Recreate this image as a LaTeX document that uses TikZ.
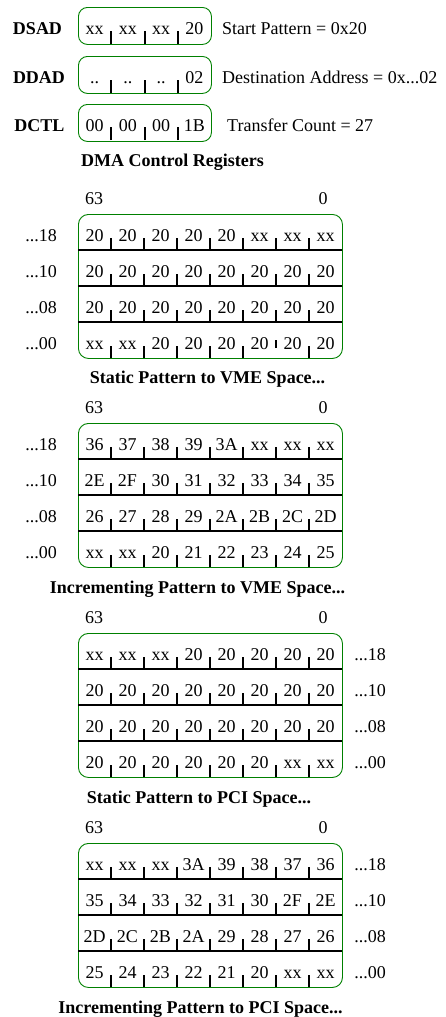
\documentclass[tikz,border=0pt]{standalone}
\usepackage{fontspec}
\setmainfont{Liberation Serif}
\usepackage{tikz}
\usetikzlibrary{positioning}
\definecolor{dmagreen}{RGB}{0,128,0}
\tikzset{
  regbox/.style={draw=dmagreen, line width=0.9pt, rounded corners=9pt, minimum width=133pt, minimum height=37pt, inner sep=0pt, anchor=north west},
  membox/.style={draw=dmagreen, line width=0.9pt, rounded corners=10pt, minimum width=264pt, minimum height=144pt, inner sep=0pt, anchor=north west},
  byte/.style={anchor=base, inner sep=0pt},
  regname/.style={font=\fontsize{18}{21}\selectfont\bfseries, anchor=base, inner sep=0pt},
  regnote/.style={anchor=base west, inner sep=0pt},
  pattitle/.style={font=\fontsize{18}{21}\selectfont\bfseries, anchor=base, inner sep=0pt},
  rowline/.style={line width=2pt},
  bytetick/.style={line width=2pt}
}

\begin{document}
\begin{tikzpicture}[x=1pt, y=-1pt, font=\fontsize{18}{21}\selectfont]
                \useasboundingbox (0,0) rectangle (445,1017);
                % DMA control registers
                \node[regbox] (dsad) at (78,7) {};
                \node[regbox] (ddad) at (78,56) {};
                \node[regbox] (dctl) at (78,104) {};
                \node[regname] (dsadname) at (37.5,34) {DSAD};
                \node[regname] (ddadname) at (39,83) {DDAD};
                \node[regname] (dctlname) at (39.5,131) {DCTL};
                \foreach \b [count=\c] in {xx,xx,xx,20}
                    \node[byte] (dsad-\c) at ({61.4+33.25*\c},34) {\b};
                \foreach \b [count=\c] in {..,..,..,02}
                    \node[byte] (ddad-\c) at ({61.4+33.25*\c},83) {\b};
                \foreach \b [count=\c] in {00,00,00,1B}
                    \node[byte] (dctl-\c) at ({61.4+33.25*\c},131) {\b};
                \foreach \c in {1,2,3} {
                    \draw[bytetick] ({78+33.25*\c},44) -- ++(0,-13);
                    \draw[bytetick] ({78+33.25*\c},93) -- ++(0,-13);
                    \draw[bytetick] ({78+33.25*\c},140) -- ++(0,-13);
                }
                \node[regnote] (dsadnote) at (222,34) {Start Pattern = 0x20};
                \node[regnote] (ddadnote) at (222,83) {Destination Address = 0x...02};
                \node[regnote] (dctlnote) at (227,131) {Transfer Count = 27};
                \node[pattitle] (regtitle) at (172.5,166) {DMA Control Registers};

                % static pattern to VME space
                \node[membox] (vmestat) at (78,214) {};
                \node[byte] (vmestat-hi) at (94,204) {63};
                \node[byte] (vmestat-lo) at (323,204) {0};
                \foreach \row [count=\r] in {{20,20,20,20,20,xx,xx,xx},{20,20,20,20,20,20,20,20},{20,20,20,20,20,20,20,20},{xx,xx,20,20,20,20,20,20}}
                    \foreach \b [count=\c] in \row
                        \node[byte] (vmestat-\r-\c) at ({61.5+33*\c},{214+36*\r-8.5}) {\b};
                \foreach \a [count=\r] in {18,10,08,00}
                    \node[byte] (vmestat-a\r) at (41,{214+36*\r-8.5}) {...\a};
                \foreach \r in {1,2,3} {
                    \draw[rowline] (78,{214+36*\r}) -- (342,{214+36*\r});
                    \foreach \c in {1,...,7}
                        \draw[bytetick] ({78+33*\c},{214+36*\r}) -- ++(0,-12);
                }
                \foreach \c in {1,2,3,4,5,7}
                    \draw[bytetick] ({78+33*\c},358) -- ++(0,-12);
                \draw[bytetick] (276,348) -- (276,340);
                \node[pattitle] (vmestat-title) at (207.5,383) {Static Pattern to VME Space...};

                % incrementing pattern to VME space
                \node[membox] (vmeinc) at (78,423) {};
                \node[byte] (vmeinc-hi) at (94,413) {63};
                \node[byte] (vmeinc-lo) at (323,413) {0};
                \foreach \row [count=\r] in {{36,37,38,39,3A,xx,xx,xx},{2E,2F,30,31,32,33,34,35},{26,27,28,29,2A,2B,2C,2D},{xx,xx,20,21,22,23,24,25}}
                    \foreach \b [count=\c] in \row
                        \node[byte] (vmeinc-\r-\c) at ({61.5+33*\c},{423+36*\r-8.5}) {\b};
                \foreach \a [count=\r] in {18,10,08,00}
                    \node[byte] (vmeinc-a\r) at (41,{423+36*\r-8.5}) {...\a};
                \foreach \r in {1,2,3,4} {
                    \ifnum\r<4 \draw[rowline] (78,{423+36*\r}) -- (342,{423+36*\r}); \fi
                    \foreach \c in {1,...,7}
                        \draw[bytetick] ({78+33*\c},{423+36*\r}) -- ++(0,-12);
                }
                \node[pattitle] (vmeinc-title) at (197.5,593) {Incrementing Pattern to VME Space...};

                % static pattern to PCI space
                \node[membox] (pcistat) at (78,633) {};
                \node[byte] (pcistat-hi) at (94,623) {63};
                \node[byte] (pcistat-lo) at (323,623) {0};
                \foreach \row [count=\r] in {{xx,xx,xx,20,20,20,20,20},{20,20,20,20,20,20,20,20},{20,20,20,20,20,20,20,20},{20,20,20,20,20,20,xx,xx}}
                    \foreach \b [count=\c] in \row
                        \node[byte] (pcistat-\r-\c) at ({61.5+33*\c},{633+36*\r-8.5}) {\b};
                \foreach \a [count=\r] in {18,10,08,00}
                    \node[byte] (pcistat-a\r) at (370,{633+36*\r-8.5}) {...\a};
                \foreach \r in {1,2,3,4} {
                    \ifnum\r<4 \draw[rowline] (78,{633+36*\r}) -- (342,{633+36*\r}); \fi
                    \foreach \c in {1,...,7}
                        \draw[bytetick] ({78+33*\c},{633+36*\r}) -- ++(0,-12);
                }
                \node[pattitle] (pcistat-title) at (199,803) {Static Pattern to PCI Space...};

                % incrementing pattern to PCI space
                \node[membox] (pciinc) at (78,843) {};
                \node[byte] (pciinc-hi) at (94,833) {63};
                \node[byte] (pciinc-lo) at (323,833) {0};
                \foreach \row [count=\r] in {{xx,xx,xx,3A,39,38,37,36},{35,34,33,32,31,30,2F,2E},{2D,2C,2B,2A,29,28,27,26},{25,24,23,22,21,20,xx,xx}}
                    \foreach \b [count=\c] in \row
                        \node[byte] (pciinc-\r-\c) at ({61.5+33*\c},{843+36*\r-8.5}) {\b};
                \foreach \a [count=\r] in {18,10,08,00}
                    \node[byte] (pciinc-a\r) at (370,{843+36*\r-8.5}) {...\a};
                \foreach \r in {1,2,3,4} {
                    \ifnum\r<4 \draw[rowline] (78,{843+36*\r}) -- (342,{843+36*\r}); \fi
                    \foreach \c in {1,...,7}
                        \draw[bytetick] ({78+33*\c},{843+36*\r}) -- ++(0,-12);
                }
                \node[pattitle] (pciinc-title) at (200.5,1013) {Incrementing Pattern to PCI Space...};
            \end{tikzpicture}
\end{document}
